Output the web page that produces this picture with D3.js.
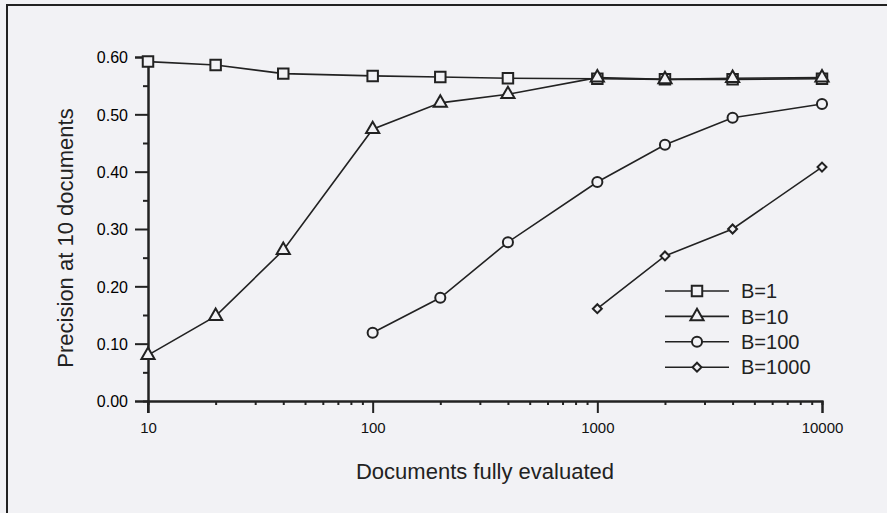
<!DOCTYPE html>
<html>
<head>
<meta charset="utf-8">
<script src="https://cdn.jsdelivr.net/npm/d3@7"></script>
<style>
  body { margin: 0; background: #f2f2f5; }
  svg { display: block; font-family: "Liberation Sans", Arial, Helvetica, sans-serif; }
</style>
</head>
<body>
<div id="chart"></div>
<script>
// documents fully evaluated (x) and precision at 10 docs for each B
var docs = [10, 20, 40, 100, 200, 400, 1000, 2000, 4000, 10000];
var b1    = [0.592, 0.586, 0.571, 0.567, 0.565, 0.563, 0.562, 0.561, 0.561, 0.562];
var b10   = [0.080, 0.148, 0.263, 0.474, 0.520, 0.535, 0.564, 0.561, 0.563, 0.564];
var b100  = [null, null, null, 0.119, 0.180, 0.277, 0.382, 0.447, 0.494, 0.518];
var b1000 = [null, null, null, null, null, null, 0.161, 0.253, 0.300, 0.408];
var seriesNames = ["B=1", "B=10", "B=100", "B=1000"];
var yTicks = [0, 0.1, 0.2, 0.3, 0.4, 0.5, 0.6];
var yMinor = [0.05, 0.15, 0.25, 0.35, 0.45, 0.55];
var xTicks = [10, 100, 1000, 10000];

var width = 887, height = 513,
    ink = "#222", bg = "#f2f2f5";

var svg = d3.select("#chart").append("svg")
    .attr("width", width).attr("height", height);

// frame (only top and left edges show in the picture)
svg.append("path")
    .attr("d", "M7," + height + "V5H" + width)
    .attr("fill", "none").attr("stroke", ink).attr("stroke-width", 2);

var x = d3.scaleLog().domain([10, 10000]).range([148, 822]);
var y = d3.scaleLinear().domain([0, 0.6]).range([401, 57]);

// minor x ticks 2..9 per decade
var xMinor = [];
[10, 100, 1000].forEach(function (dec) {
  for (var k = 2; k <= 9; k++) xMinor.push(dec * k);
});

var gx = svg.append("g").attr("transform", "translate(0," + y(0) + ")");
gx.call(d3.axisBottom(x).tickValues(xMinor).tickSize(4).tickFormat(""));
gx.append("g").call(d3.axisBottom(x).tickValues(xTicks).tickSize(12).tickPadding(9)
    .tickFormat(d3.format("d")));

var gy = svg.append("g").attr("transform", "translate(" + x(10) + ",0)");
gy.call(d3.axisLeft(y).tickValues(yMinor).tickSize(5).tickFormat(""));
gy.append("g").call(d3.axisLeft(y).tickValues(yTicks).tickSize(13).tickPadding(7)
    .tickFormat(d3.format(".2f")));

svg.selectAll(".domain").attr("stroke", ink).attr("stroke-width", 2);
svg.selectAll(".tick line").attr("stroke", ink).attr("stroke-width", 2);
gx.selectAll(".tick text").attr("font-size", 15).attr("fill", "#111");
gy.selectAll(".tick text").attr("font-size", 16).attr("fill", "#000").attr("dy", "0.36em");
// y axis line continues down to the tick at 10
svg.append("line")
    .attr("x1", x(10)).attr("x2", x(10))
    .attr("y1", y(0)).attr("y2", y(0) + 12)
    .attr("stroke", ink).attr("stroke-width", 2);

// axis titles
svg.append("text")
    .attr("x", 485).attr("y", 479)
    .attr("text-anchor", "middle").attr("font-size", 22).attr("fill", "#222")
    .text("Documents fully evaluated");
svg.append("text")
    .attr("transform", "translate(73,238) rotate(-90)")
    .attr("text-anchor", "middle").attr("font-size", 22).attr("fill", "#222")
    .text("Precision at 10 documents");

// markers (diamond = square turned 45 degrees)
var shapes = [d3.symbolSquare, d3.symbolTriangle, d3.symbolCircle, d3.symbolSquare];
var sizes = [110, 75, 80, 40];
var turns = [0, 0, 0, 45];
function marker(g, i) {
  g.append("path")
      .attr("d", d3.symbol().type(shapes[i]).size(sizes[i]))
      .attr("transform", "rotate(" + turns[i] + ")")
      .attr("fill", bg).attr("stroke", ink).attr("stroke-width", 2);
}

var data = [b1, b10, b100, b1000].map(function (vals, i) {
  return {
    name: seriesNames[i],
    idx: i,
    values: docs.map(function (d, j) { return {doc: d, p: vals[j]}; })
        .filter(function (v) { return v.p != null; })
  };
});

var line = d3.line()
    .x(function (d) { return x(d.doc); })
    .y(function (d) { return y(d.p); });

var series = svg.selectAll("g.series").data(data).enter()
    .append("g").attr("class", "series");
series.append("path")
    .attr("d", function (d) { return line(d.values); })
    .attr("fill", "none").attr("stroke", ink).attr("stroke-width", 1.6);
series.each(function (s) {
  d3.select(this).selectAll("g.pt").data(s.values).enter()
      .append("g").attr("class", "pt")
      .attr("transform", function (d) { return "translate(" + x(d.doc) + "," + y(d.p) + ")"; })
      .each(function () { marker(d3.select(this), s.idx); });
});

// legend
var legend = svg.append("g").attr("transform", "translate(665,291)");
var rows = legend.selectAll("g").data(data).enter().append("g")
    .attr("transform", function (d, i) { return "translate(0," + (i * 25.4) + ")"; });
rows.append("line")
    .attr("x1", 0).attr("x2", 64)
    .attr("stroke", ink).attr("stroke-width", 1.6);
rows.append("g").attr("transform", "translate(32,0)")
    .each(function (d) { marker(d3.select(this), d.idx); });
rows.append("text")
    .attr("x", 76).attr("dy", "0.36em")
    .attr("font-size", 20).attr("fill", "#222")
    .text(function (d) { return d.name; });
</script>
</body>
</html>
